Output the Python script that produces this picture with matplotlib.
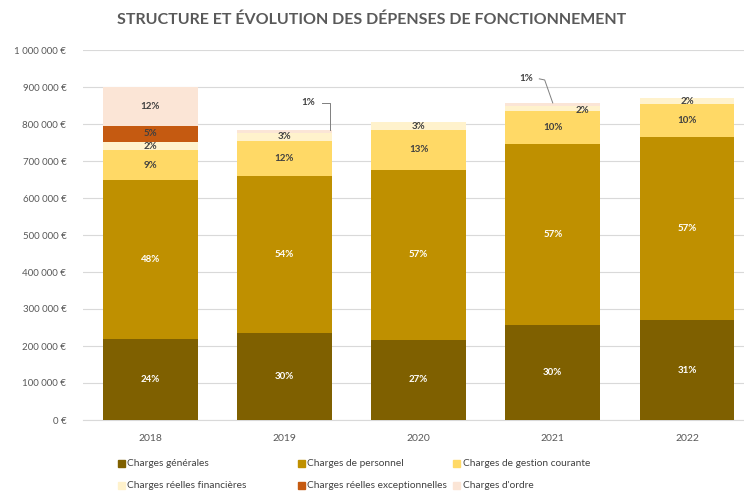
import matplotlib
matplotlib.use("Agg")
import matplotlib.pyplot as plt
from matplotlib.patches import Rectangle
import numpy as np

plt.rcParams['font.family'] = ['Lato', 'DejaVu Sans']

years = ["2018", "2019", "2020", "2021", "2022"]
series_names = ["Charges générales", "Charges de personnel", "Charges de gestion courante",
                "Charges réelles financières", "Charges réelles exceptionnelles", "Charges d'ordre"]
charges_generales = [218000, 236000, 217000, 257000, 270000]
charges_personnel = [430000, 424000, 460000, 490000, 496000]
charges_gestion = [81000, 95000, 106000, 88000, 88000]
charges_financieres = [22000, 22000, 22000, 15000, 16000]
charges_exceptionnelles = [44000, 0, 0, 0, 0]
charges_ordre = [105000, 7000, 0, 7000, 0]
colors = ["#7F6000", "#BF9000", "#FFD966", "#FFF2CC", "#C55A11", "#FBE5D6"]
label_colors = ["white", "white", "#404040", "#404040", "#404040", "#404040"]
yticks = [0, 100000, 200000, 300000, 400000, 500000, 600000, 700000, 800000, 900000, 1000000]

series = [charges_generales, charges_personnel, charges_gestion,
          charges_financieres, charges_exceptionnelles, charges_ordre]

W, H = 744, 491
fig = plt.figure(figsize=(W / 100, H / 100), dpi=100)
ax = fig.add_axes([83 / W, (H - 420) / H, (744 - 83) / W, 370 / H])

x = np.arange(len(years))
totals = np.sum(np.array(series), axis=0)
bottom = np.zeros(len(years))
bw = 0.707
lfs = 7
for i, (vals, c) in enumerate(zip(series, colors)):
    vals = np.array(vals, dtype=float)
    ax.bar(x, vals, bw, bottom=bottom, color=c, linewidth=0, zorder=3)
    for j in range(len(years)):
        v = vals[j]
        if v <= 0:
            continue
        pct = f"{round(100 * v / totals[j]):.0f}%"
        cy = bottom[j] + v / 2
        if i == 5 and j in (1, 3):
            # callout labels
            if j == 1:
                tx, ty = x[j] + 0.18, 857000
                ax.text(tx, ty, pct, ha="center", va="center", fontsize=lfs,
                        color="#404040", fontweight="bold", zorder=5)
                ax.plot([tx + 0.1, tx + 0.16, tx + 0.16, tx + 0.16],
                        [ty, ty, ty - 15000, bottom[j] + v], color="#7F7F7F",
                        lw=0.7, zorder=5)
            else:
                tx, ty = x[j] - 0.2, 922000
                ax.text(tx, ty, pct, ha="center", va="center", fontsize=lfs,
                        color="#404040", fontweight="bold", zorder=5)
                ax.plot([tx + 0.1, tx + 0.14, tx + 0.2],
                        [ty, ty - 3000, bottom[j] + v], color="#7F7F7F",
                        lw=0.7, zorder=5)
            continue
        tx = x[j]
        if i == 3 and j == 3:
            tx = x[j] + 0.22
            cy = bottom[j] + v / 2 - 5000
        ax.text(tx, cy, pct, ha="center", va="center", fontsize=lfs,
                color=label_colors[i], fontweight="bold", zorder=5)
    bottom += vals

ax.set_xlim(-0.5, 4.425)
ax.set_ylim(0, 1000000)
ax.set_yticks(yticks)
ax.set_yticklabels([f"{v:,}".replace(",", " ") + " €" for v in yticks])
ax.set_xticks(x)
ax.set_xticklabels(years)
ax.tick_params(axis="y", length=0, pad=12, labelsize=7, labelcolor="#595959")
ax.tick_params(axis="x", length=0, pad=10, labelsize=7.5, labelcolor="#595959")
ax.grid(axis="y", color="#D9D9D9", lw=0.8, zorder=0)
for s in ["top", "right", "left"]:
    ax.spines[s].set_visible(False)
ax.spines["bottom"].set_color("#D9D9D9")
ax.spines["bottom"].set_linewidth(0.8)

fig.text(372 / W, 1 - 20 / H, "STRUCTURE ET ÉVOLUTION DES DÉPENSES DE FONCTIONNEMENT",
         ha="center", va="center", fontsize=11.5, fontweight="bold", color="#595959")

# legend
leg_x = [121, 301, 457]
leg_y = [463, 485]
for k, (name, c) in enumerate(zip(series_names, colors)):
    col, row = k % 3, k // 3
    px, py = leg_x[col], leg_y[row]
    fig.patches.append(Rectangle(((px - 3.5) / W, 1 - (py + 3.5) / H), 7 / W, 7 / H,
                                 transform=fig.transFigure, color=c, figure=fig))
    fig.text((px + 6) / W, 1 - py / H, name, ha="left", va="center",
             fontsize=7.3, color="#404040")

fig.savefig("out.png", dpi=100)
